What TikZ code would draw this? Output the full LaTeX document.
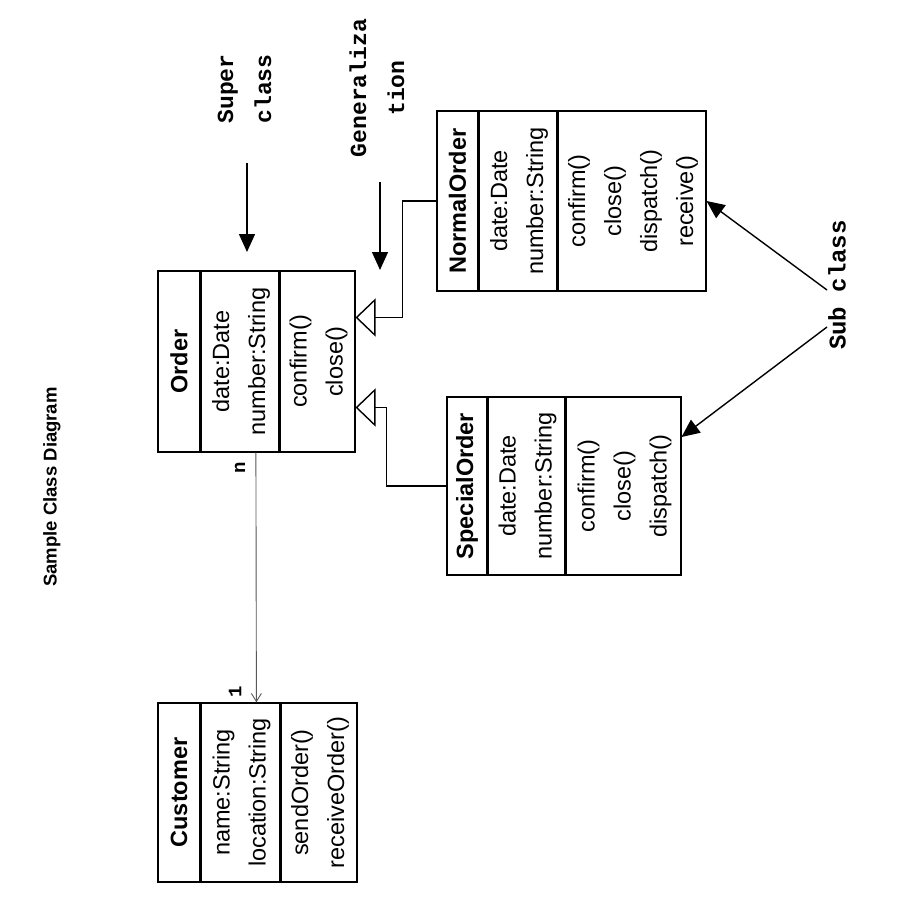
\documentclass[tikz,border=0pt]{standalone}
\usepackage{fontspec}
\setmainfont{Liberation Sans}
\setmonofont{Liberation Mono}
\usetikzlibrary{positioning,arrows.meta}

\newcommand{\members}[1]{\rotatebox{90}{\begin{tabular}{@{}c@{}}#1\end{tabular}}}
\newcommand{\classname}[1]{\rotatebox{90}{\bfseries #1}}

\tikzset{
  comp/.style={draw, line width=1.4pt, inner sep=0pt, font=\fontsize{23.5}{36}\selectfont},
  note/.style={rotate=90, align=center, font=\ttfamily\bfseries\fontsize{23}{38}\selectfont},
  mult/.style={rotate=90, font=\ttfamily\bfseries\fontsize{19}{20}\selectfont},
  pointer/.style={line width=1.4pt, -{Triangle[length=18pt,width=16pt]}},
  inherit/.style={line width=1.4pt, -{Triangle[open,length=20pt,width=38pt]}},
  assoc/.style={line width=0.9pt, draw=black!65, -{Straight Barb[length=8pt,width=10pt]}},
}

\begin{document}
\begin{tikzpicture}[x=1pt,y=-1pt]
\useasboundingbox[fill=white] (0,0) rectangle (900,900);

\node[rotate=90, font=\bfseries\fontsize{18.5}{20}\selectfont] (title) at (52,487) {Sample Class Diagram};

% Order
\node[comp, minimum width=42pt, minimum height=181pt] (order) at (179,361.5) {\classname{Order}};
\node[comp, right=0pt of order, minimum width=77pt, minimum height=181pt] (order-attr) {\members{date:Date\\number:String}};
\node[comp, right=0pt of order-attr, minimum width=75pt, minimum height=181pt] (order-ops) {\members{confirm()\\close()}};

% NormalOrder
\node[comp, minimum width=41pt, minimum height=180pt] (normal) at (457.5,201) {\classname{NormalOrder}};
\node[comp, right=0pt of normal, minimum width=77pt, minimum height=180pt] (normal-attr) {\members{date:Date\\number:String}};
\node[comp, right=0pt of normal-attr, minimum width=148pt, minimum height=180pt] (normal-ops) {\members{confirm()\\close()\\dispatch()\\receive()}};

% SpecialOrder
\node[comp, minimum width=40pt, minimum height=178pt] (special) at (467,486) {\classname{SpecialOrder}};
\node[comp, right=0pt of special, minimum width=76pt, minimum height=178pt] (special-attr) {\members{date:Date\\number:String}};
\node[comp, right=0pt of special-attr, minimum width=115pt, minimum height=178pt] (special-ops) {\members{confirm()\\close()\\dispatch()}};

% Customer
\node[comp, minimum width=42pt, minimum height=179pt] (customer) at (179,792.5) {\classname{Customer}};
\node[comp, right=0pt of customer, minimum width=78pt, minimum height=179pt] (customer-attr) {\members{name:String\\location:String}};
\node[comp, right=0pt of customer-attr, minimum width=76pt, minimum height=179pt] (customer-ops) {\members{sendOrder()\\receiveOrder()}};

% generalization
\draw[inherit] (normal.west) -- ++(-34,0) |- ([yshift=44pt]order-ops.east);
\draw[inherit] (special.west) -- ++(-60,0) |- ([yshift=-46pt]order-ops.east);

% association
\draw[assoc] ([xshift=16pt]order-attr.south) -- ([xshift=16pt]customer-attr.north);
\node[mult] (many) at (240,468) {n};
\node[mult] (one) at (235,692) {1};

% notes
\node[note] (super) at (244.5,89) {Super\\class};
\node[note] (gen) at (377,88) {Generaliza\\tion};
\node[note, font=\ttfamily\bfseries\fontsize{24}{38}\selectfont] (sub) at (837,285) {Sub class};

\coordinate (super-tail) at (247,163);
\coordinate (super-tip) at (247,252);
\coordinate (gen-tail) at (380,182);
\coordinate (gen-tip) at (380,270);
\coordinate (sub-a) at (827,290);
\coordinate (sub-b) at (827,327);
\draw[pointer] (super-tail) -- (super-tip);
\draw[pointer] (gen-tail) -- (gen-tip);
\draw[pointer] (sub-a) -- (normal-ops.east);
\draw[pointer] (sub-b) -- ([yshift=49pt]special-ops.east);
\end{tikzpicture}
\end{document}
